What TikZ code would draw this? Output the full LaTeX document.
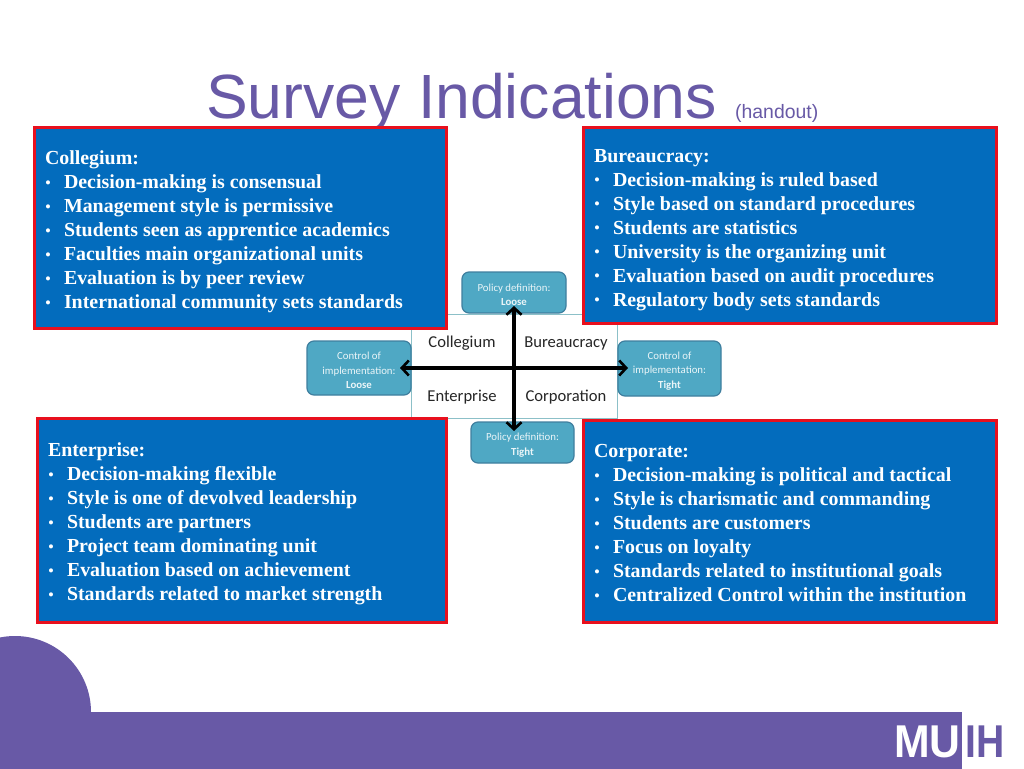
\documentclass[tikz,border=0pt]{standalone}
\usepackage{fontspec}
\setmainfont{Liberation Serif}
\newfontfamily\arialf{Liberation Sans}
\newfontfamily\calf{Carlito}
\usetikzlibrary{arrows.meta}
\definecolor{purp}{HTML}{6859A6}
\definecolor{bluebox}{HTML}{036CBD}
\definecolor{redline}{HTML}{E8101E}
\definecolor{tealbox}{HTML}{4FA8C4}
\definecolor{tealedge}{HTML}{3F7F9F}
\definecolor{tealline}{HTML}{8CC0C8}
\newcommand{\bul}[1]{\makebox[19pt][l]{\raisebox{0.5pt}{\mdseries\fontsize{17}{17}\selectfont\textbullet}}#1\\}
\newcommand{\lowr}{\rule{0pt}{12.5pt}}
\tikzset{
  panel/.style={draw=redline,fill=bluebox,line width=3pt,anchor=north west,inner sep=0pt,outer sep=0pt},
  paneltext/.style={anchor=north west,inner sep=0pt,outer sep=0pt,text=white,align=left,font=\fontsize{19.9}{24}\selectfont\bfseries},
  tealnode/.style={draw=tealedge,fill=tealbox,line width=1.2pt,rounded corners=7pt,inner sep=0pt,outer sep=0pt,anchor=north west,text=white!88!tealbox,align=center,font=\calf\fontsize{10.8}{14.4}\selectfont},
  quad/.style={inner sep=0pt,font=\calf\fontsize{16.6}{19}\selectfont,text=black!85},
  axis/.style={line width=3.2pt,{Straight Barb[length=7pt,width=15pt,line width=2.6pt]}-{Straight Barb[length=7pt,width=15pt,line width=2.6pt]}},
  quadline/.style={draw=tealline,line width=1pt}
}
\begin{document}
\begin{tikzpicture}[x=1pt,y=-1pt]
\useasboundingbox (0,0) rectangle (1024,768);
\clip (0,0) rectangle (1024,770);
\fill[white] (0,0) rectangle (1024,770);
% footer
\fill[purp] (15,712) circle[radius=76];
\fill[purp] (0,712) rectangle (962,770);
\node[anchor=base west,inner sep=0pt,text=white,xscale=.93,font=\arialf\bfseries\fontsize{46}{46}\selectfont] (logoa) at (894,757) {MU};
\node[anchor=base west,inner sep=0pt,text=purp,xscale=.85,font=\arialf\bfseries\fontsize{46}{46}\selectfont] (logob) at (965,757) {IH};
% title
\node[anchor=base west,inner sep=0pt,text=purp,font=\arialf\fontsize{62.5}{70}\selectfont] (title) at (206,118) {Survey Indications};
\node[anchor=base west,inner sep=0pt,text=purp,font=\arialf\fontsize{19.4}{20}\selectfont] (hand) at (735,118) {(handout)};
% centre square
\node[quadline,draw,anchor=north west,minimum width=206pt,minimum height=104pt,inner sep=0pt,outer sep=0pt] (square) at (411,314) {};
\node[quad] (q1) at (462,343.5) {Collegium};
\node[quad] (q2) at (566,343.5) {Bureaucracy};
\node[quad] (q3) at (462,397.5) {Enterprise};
\node[quad] (q4) at (566,397.5) {Corporation};
% teal nodes
\node[tealnode,minimum width=104pt,minimum height=41pt] (pl) at (462,272) {\lowr Policy definition:\\\textbf{Loose}};
\node[tealnode,minimum width=103pt,minimum height=41pt] (pt) at (471,422) {\lowr Policy definition:\\\textbf{Tight}};
\node[tealnode,minimum width=104pt,minimum height=54pt] (cl) at (307,341) {\lowr Control of\\implementation:\\\textbf{Loose}};
\node[tealnode,minimum width=103pt,minimum height=55pt] (ct) at (618,341) {\lowr Control of\\implementation:\\\textbf{Tight}};
\coordinate (atop) at (514,306);
\coordinate (abot) at (514,431);
\coordinate (alef) at (400,368);
\coordinate (arig) at (628,368);
\draw[axis] (atop) -- (abot);
\draw[axis] (alef) -- (arig);
% panels
\node[panel,minimum width=412pt,minimum height=201pt] (b1) at (34.5,127.5) {};
\node[panel,minimum width=413pt,minimum height=196pt] (b2) at (583.5,127.5) {};
\node[panel,minimum width=409pt,minimum height=204pt] (b3) at (37.5,418.5) {};
\node[panel,minimum width=413pt,minimum height=202pt] (b4) at (583.5,420.5) {};
\node[paneltext] (t1) at (45,151) {Collegium:\\
\bul{Decision-making is consensual}
\bul{Management style is permissive}
\bul{Students seen as apprentice academics}
\bul{Faculties main organizational units}
\bul{Evaluation is by peer review}
\bul{International community sets standards}};
\node[paneltext] (t2) at (594,149) {Bureaucracy:\\
\bul{Decision-making is ruled based}
\bul{Style based on standard procedures}
\bul{Students are statistics}
\bul{University is the organizing unit}
\bul{Evaluation based on audit procedures}
\bul{Regulatory body sets standards}};
\node[paneltext] (t3) at (48,443) {Enterprise:\\
\bul{Decision-making flexible}
\bul{Style is one of devolved leadership}
\bul{Students are partners}
\bul{Project team dominating unit}
\bul{Evaluation based on achievement}
\bul{Standards related to market strength}};
\node[paneltext] (t4) at (594,444.5) {Corporate:\\
\bul{Decision-making is political and tactical}
\bul{Style is charismatic and commanding}
\bul{Students are customers}
\bul{Focus on loyalty}
\bul{Standards related to institutional goals}
\bul{Centralized Control within the institution}};
\end{tikzpicture}
\end{document}
